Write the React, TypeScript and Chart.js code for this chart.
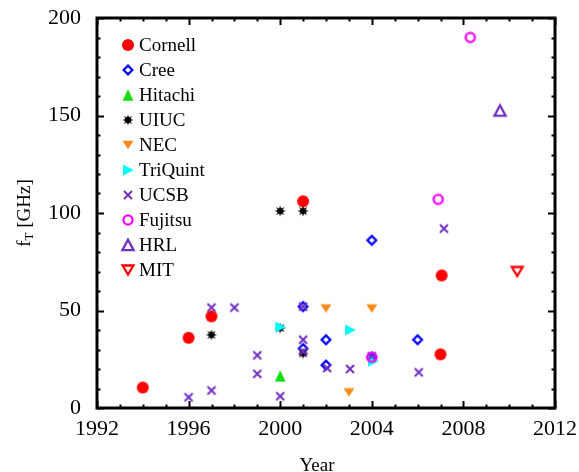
import React, { useEffect, useRef } from "react";
import { Chart, registerables } from "chart.js";
Chart.register(...registerables);

// ---- data (year, fT in GHz) ----
const seriesNames = ["Cornell", "Cree", "Hitachi", "UIUC", "NEC", "TriQuint", "UCSB", "Fujitsu", "HRL", "MIT"];

const cornellYear = [1994, 1996, 1997, 2001, 2007.05, 2007];
const cornellFt = [10.5, 36, 47, 106, 68, 27.5];

const creeYear = [2001, 2001, 2002, 2002, 2004, 2004, 2006];
const creeFt = [52, 30.5, 35, 22, 86, 26, 35];

const hitachiYear = [2000];
const hitachiFt = [16.5];

const uiucYear = [1997, 2000, 2000, 2001, 2001];
const uiucFt = [37.5, 41, 101, 101, 28];

const necYear = [2002, 2003, 2004];
const necFt = [51, 8, 51];

const triquintYear = [2000, 2003.05, 2004.05];
const triquintFt = [41.5, 40, 24];

const ucsbYear = [1996, 1997, 1997, 1998, 1999, 1999, 2000, 2001, 2001, 2001, 2002.05, 2003.05, 2004, 2006.05, 2007.15];
const ucsbFt = [5.5, 9, 51.5, 51.5, 27, 17.5, 6, 52, 35, 29, 20.5, 20, 26.5, 18.3, 92];

const fujitsuYear = [2004, 2006.9, 2008.3];
const fujitsuFt = [26, 107, 190];

const hrlYear = [2009.6];
const hrlFt = [152.5];

const mitYear = [2010.35];
const mitFt = [70];

const xTickLabels = [1992, 1996, 2000, 2004, 2008, 2012];
const yTickLabels = [0, 50, 100, 150, 200];

const seriesYears = [cornellYear, creeYear, hitachiYear, uiucYear, necYear, triquintYear, ucsbYear, fujitsuYear, hrlYear, mitYear];
const seriesFt = [cornellFt, creeFt, hitachiFt, uiucFt, necFt, triquintFt, ucsbFt, fujitsuFt, hrlFt, mitFt];
const seriesMarker = ["circle", "diamond", "triUp", "star", "triDown", "triRight", "x", "ring", "triUpOpen", "triDownOpen"];
const seriesColor = ["#ff0000", "#0000ff", "#11dd11", "#000000", "#fb8c1a", "#00ffff", "#7030c0", "#ff00ff", "#7030c0", "#ff0000"];

const SERIF = '"Liberation Serif", "Times New Roman", serif';

function makeMarker(kind: string, color: string): HTMLCanvasElement {
  const s = 18;
  const c = document.createElement("canvas");
  c.width = s;
  c.height = s;
  const g = c.getContext("2d")!;
  const m = s / 2;
  g.fillStyle = color;
  g.strokeStyle = color;
  g.lineWidth = 2;
  g.lineJoin = "miter";
  const poly = (pts: number[][], fill: boolean) => {
    g.beginPath();
    pts.forEach((p, i) => (i === 0 ? g.moveTo(m + p[0], m + p[1]) : g.lineTo(m + p[0], m + p[1])));
    g.closePath();
    if (fill) g.fill();
    else g.stroke();
  };
  switch (kind) {
    case "circle":
      g.beginPath();
      g.arc(m, m, 6, 0, Math.PI * 2);
      g.fill();
      break;
    case "diamond":
      g.lineWidth = 2.2;
      poly([[0, -4.4], [4.4, 0], [0, 4.4], [-4.4, 0]], false);
      break;
    case "triUp":
      poly([[0, -5.8], [5.4, 5.8], [-5.4, 5.8]], true);
      break;
    case "star": {
      const pts: number[][] = [];
      for (let i = 0; i < 16; i++) {
        const r = i % 2 === 0 ? 5.6 : 2.8;
        const a = (i * Math.PI) / 8 - Math.PI / 2;
        pts.push([r * Math.cos(a), r * Math.sin(a)]);
      }
      poly(pts, true);
      break;
    }
    case "triDown":
      poly([[-5.5, -4.3], [5.5, -4.3], [0, 4.3]], true);
      break;
    case "triRight":
      poly([[-5, -5.6], [5.8, 0], [-5, 5.6]], true);
      break;
    case "x":
      g.lineWidth = 2;
      g.beginPath();
      g.moveTo(m - 4, m - 4);
      g.lineTo(m + 4, m + 4);
      g.moveTo(m + 4, m - 4);
      g.lineTo(m - 4, m + 4);
      g.stroke();
      break;
    case "ring":
      g.lineWidth = 2.3;
      g.beginPath();
      g.arc(m, m, 4.6, 0, Math.PI * 2);
      g.stroke();
      break;
    case "triUpOpen":
      g.lineWidth = 2.3;
      poly([[0, -5.2], [5.6, 5.2], [-5.6, 5.2]], false);
      break;
    case "triDownOpen":
      g.lineWidth = 2.3;
      poly([[-5.4, -4.5], [5.4, -4.5], [0, 4.5]], false);
      break;
  }
  return c;
}

const framePlugin = {
  id: "frameTicks",
  afterDatasetsDraw(chart: any) {
    const { ctx, chartArea } = chart;
    const { left, right, top, bottom } = chartArea;
    const xs = chart.scales.x;
    const ys = chart.scales.y;
    ctx.save();
    ctx.strokeStyle = "#000";
    ctx.lineWidth = 2;
    ctx.beginPath();
    for (let yr = 1992; yr <= 2012; yr++) {
      const px = Math.round(xs.getPixelForValue(yr)) + 0.5;
      const len = yr % 4 === 0 ? 7 : 3.5;
      ctx.moveTo(px, bottom);
      ctx.lineTo(px, bottom - len);
      ctx.moveTo(px, top);
      ctx.lineTo(px, top + len);
    }
    for (let v = 0; v <= 200; v += 10) {
      const py = Math.round(ys.getPixelForValue(v)) + 0.5;
      const len = v % 50 === 0 ? 7 : 3.5;
      ctx.moveTo(left, py);
      ctx.lineTo(left + len, py);
      ctx.moveTo(right, py);
      ctx.lineTo(right - len, py);
    }
    ctx.stroke();
    ctx.lineWidth = 3;
    ctx.strokeRect(left, top, right - left, bottom - top);
    ctx.restore();
  },
  afterDraw(chart: any) {
    const { ctx } = chart;
    ctx.save();
    // legend
    ctx.font = `19px ${SERIF}`;
    ctx.fillStyle = "#000";
    ctx.textBaseline = "middle";
    ctx.textAlign = "left";
    chart.data.datasets.forEach((ds: any, i: number) => {
      const y = 45 + 25 * i;
      const img = ds.pointStyle as HTMLCanvasElement;
      ctx.drawImage(img, 128 - img.width / 2, y - img.height / 2);
      ctx.fillText(ds.label, 139, y + 1);
    });
    // x title
    ctx.textAlign = "center";
    ctx.textBaseline = "middle";
    ctx.fillText("Year", 317, 466);
    // y title with subscript
    ctx.translate(25, 213);
    ctx.rotate(-Math.PI / 2);
    ctx.font = `19px ${SERIF}`;
    const wF = ctx.measureText("f").width;
    ctx.font = `13px ${SERIF}`;
    const wT = ctx.measureText("T").width;
    ctx.font = `19px ${SERIF}`;
    const wRest = ctx.measureText(" [GHz]").width;
    const total = wF + wT + wRest;
    let x0 = -total / 2;
    ctx.textAlign = "left";
    ctx.fillText("f", x0, 0);
    x0 += wF;
    ctx.font = `13px ${SERIF}`;
    ctx.fillText("T", x0, 5);
    x0 += wT;
    ctx.font = `19px ${SERIF}`;
    ctx.fillText(" [GHz]", x0, 0);
    ctx.restore();
  },
};

export default function App() {
  const ref = useRef<HTMLCanvasElement>(null);
  useEffect(() => {
    if (!ref.current) return;
    const datasets = seriesNames.map((name, i) => {
      const img = makeMarker(seriesMarker[i], seriesColor[i]);
      return {
        label: name,
        data: seriesYears[i].map((x, j) => ({ x, y: seriesFt[i][j] })),
        pointStyle: img,
        pointRadius: 6,
        pointHoverRadius: 6,
        backgroundColor: seriesColor[i],
        borderColor: seriesColor[i],
        showLine: false,
        order: seriesNames.length - i,
      };
    });
    const chart = new Chart(ref.current, {
      type: "scatter",
      data: { datasets: datasets as any },
      options: {
        responsive: false,
        animation: false,
        devicePixelRatio: 1,
        events: [],
        layout: { padding: { top: 18, right: 24, left: 0, bottom: 0 } },
        plugins: { legend: { display: false }, tooltip: { enabled: false } },
        scales: {
          x: {
            type: "linear",
            min: xTickLabels[0],
            max: xTickLabels[xTickLabels.length - 1],
            grid: { display: true, drawOnChartArea: false, drawTicks: true, tickLength: 8, tickColor: "rgba(0,0,0,0)" },
            border: { display: false },
            ticks: {
              stepSize: 4,
              autoSkip: false,
              maxRotation: 0,
              padding: 0,
              color: "#000",
              font: { family: SERIF, size: 22 },
              callback: (v: any) => (xTickLabels.includes(Number(v)) ? String(v) : ""),
            },
            afterFit: (s: any) => {
              s.height = 64;
            },
          },
          y: {
            type: "linear",
            min: yTickLabels[0],
            max: yTickLabels[yTickLabels.length - 1],
            grid: { display: true, drawOnChartArea: false, drawTicks: true, tickLength: 16, tickColor: "rgba(0,0,0,0)" },
            border: { display: false },
            ticks: {
              stepSize: 50,
              padding: 0,
              color: "#000",
              font: { family: SERIF, size: 22 },
              callback: (v: any) => String(v),
            },
            afterFit: (s: any) => {
              s.width = 97;
            },
          },
        },
      },
      plugins: [framePlugin],
    });
    return () => chart.destroy();
  }, []);
  return (
    <div style={{ position: "fixed", left: 0, top: 0, width: 579, height: 472, background: "#fff" }}>
      <canvas ref={ref} width={579} height={472} />
    </div>
  );
}
